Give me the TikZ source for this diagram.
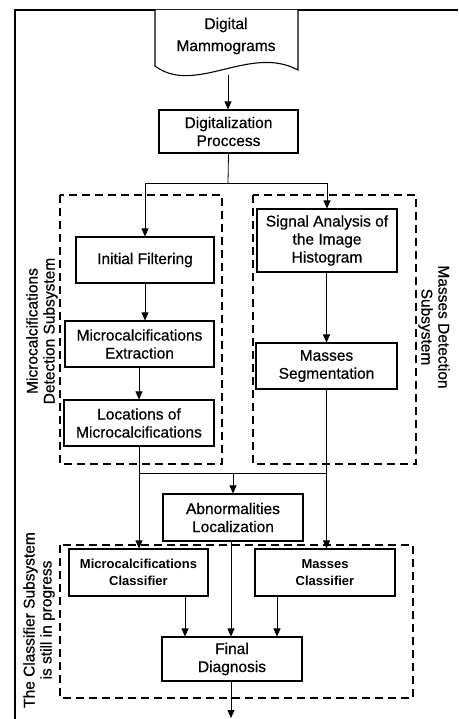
\documentclass[tikz,border=0pt]{standalone}
\usepackage{fontspec}
\setmainfont{Liberation Sans}
\newfontfamily\medfont[FakeBold=0.6]{Liberation Sans}
\usetikzlibrary{arrows.meta,calc}
\begin{document}
\begin{tikzpicture}[x=1pt,y=-1pt,
  box/.style={draw,line width=1.1pt,align=center,inner sep=0pt,font=\medfont\fontsize{15.5}{18}\selectfont},
  cbox/.style={box,font=\fontsize{13}{17}\selectfont\bfseries},
  arr/.style={-{Triangle[length=8pt,width=7pt]},line width=0.8pt},
  ln/.style={line width=0.8pt},
  dbox/.style={draw,line width=1.4pt,dash pattern=on 8pt off 5pt},
  lbl/.style={align=center,inner sep=0pt,font=\medfont\fontsize{15.5}{17}\selectfont}]
\useasboundingbox (0,0) rectangle (458,719);
\fill[white] (0,0) rectangle (458,719);
% outer frame (cropped)
\draw[line width=2pt] (15,719) -- (15,10) -- (458,10);
% document shape
\draw[line width=1.1pt,fill=white] (155,10) -- (155,66) .. controls (195,96) and (250,44) .. (298,70) -- (298,10);
\node[lbl,font=\medfont\fontsize{15.5}{22}\selectfont] (doc) at (226,36) {Digital\\Mammograms};
\coordinate (docb) at (228,75);
% boxes
\node[box,minimum width=139pt,minimum height=43pt] (dig) at (228.5,131.5) {Digitalization\\Proccess};
\node[box,minimum width=138pt,minimum height=46pt] (if) at (145,260) {Initial Filtering};
\node[box,minimum width=149pt,minimum height=46pt] (mce) at (139.5,344) {Microcalcifications\\Extraction};
\node[box,minimum width=150pt,minimum height=46pt] (loc) at (139,423) {Locations of\\Microcalcifications};
\node[box,minimum width=140pt,minimum height=63pt] (sa) at (327,240.5) {Signal Analysis of\\the Image\\Histogram};
\node[box,minimum width=141pt,minimum height=46pt] (ms) at (326.5,366) {Masses\\Segmentation};
\node[box,minimum width=140pt,minimum height=47pt] (ab) at (233,517.5) {Abnormalities\\Localization};
\node[cbox,minimum width=139pt,minimum height=47pt] (mcc) at (138.5,572.5) {Microcalcifications\\Classifier};
\node[cbox,minimum width=140pt,minimum height=47pt] (masc) at (325,572.5) {Masses\\Classifier};
\node[box,minimum width=140pt,minimum height=44pt] (fd) at (232,659) {Final\\Diagnosis};
% dashed subsystems
\draw[dbox] (60,195) rectangle (222,464);
\draw[dbox] (253,195) rectangle (416,464);
\draw[dbox] (60,545) rectangle (413,698);
% side labels
\node[lbl,rotate=90] (l1) at (42,331) {Microcalcifications\\Detection Subsystem};
\node[lbl,rotate=-90] (l2) at (434,327) {Masses Detection\\Subsystem};
\node[lbl,rotate=90] (l3) at (39,620) {The Classifier Subsystem\\is still in progress};
% connectors
\coordinate (j1) at (228,183);
\coordinate (out) at (231,718);
\draw[arr] (docb) -- (docb |- dig.north);
\draw[ln] (dig.south) -- (j1);
\draw[ln] (if.north |- j1) -- (sa.north |- j1);
\draw[arr] (if.north |- j1) -- (if.north);
\draw[arr] (sa.north |- j1) -- (sa.north);
\draw[arr] (if.south) -- (if.south |- mce.north);
\draw[arr] (mce.south -| loc.north) -- (loc.north);
\draw[arr] (sa.south -| ms.north) -- (ms.north);
\coordinate (j2) at (233,473);
\draw[ln] (loc.south |- j2) -- (ms.south |- j2);
\draw[arr] (j2) -- (ab.north);
\draw[arr] (loc.south) -- (loc.south |- mcc.north);
\draw[arr] (ms.south) -- (ms.south |- masc.north);
\draw[arr] ([xshift=-47pt]fd.north |- mcc.south) -- ([xshift=-47pt]fd.north);
\draw[arr] ([xshift=-1pt]fd.north |- ab.south) -- ([xshift=-1pt]fd.north);
\draw[arr] ([xshift=45pt]fd.north |- masc.south) -- ([xshift=45pt]fd.north);
\draw[arr] ([xshift=-1pt]fd.south) -- (out);
\end{tikzpicture}
\end{document}
